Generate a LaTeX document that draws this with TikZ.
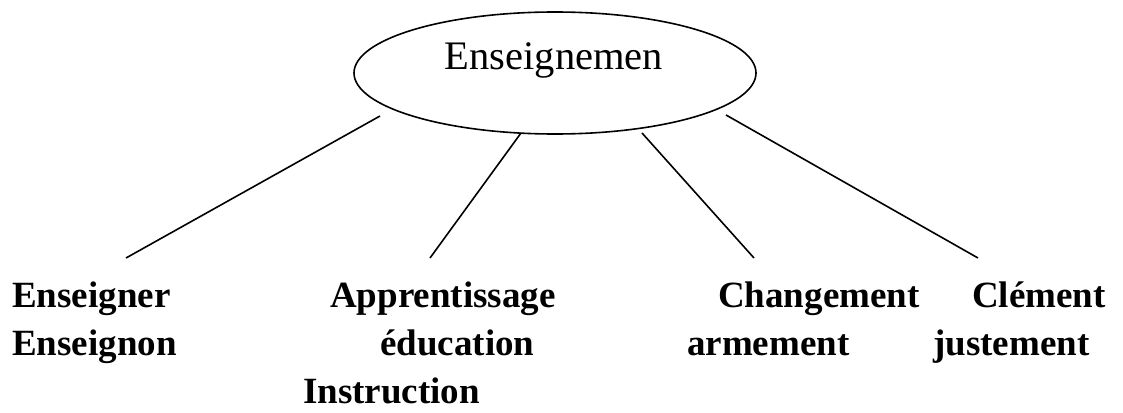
\documentclass[tikz,border=0pt]{standalone}
\usepackage{fontspec}
\setmainfont{Liberation Serif}
\usetikzlibrary{shapes.geometric}
\begin{document}
\begin{tikzpicture}[x=1pt,y=-1pt,
  word/.style={inner sep=0pt,anchor=base west,font=\fontsize{37}{44}\selectfont\bfseries},
  branch/.style={line width=1.6pt},
  hub/.style={ellipse,draw,line width=1.6pt,minimum width=402pt,minimum height=122pt,inner sep=0pt}]
\useasboundingbox (0,0) rectangle (1123,412);

% central ellipse and its title
\node[hub] (hub) at (555,73) {};
\node[inner sep=0pt,anchor=base,font=\fontsize{40.5}{48}\selectfont] (title) at (554,70) {Enseignemen};

% word groups
\node[word] (w1a) at (12,307) {Enseigner};
\node[word] (w1b) at (12,355) {Enseignon};
\node[word] (w2a) at (330,307) {Apprentissage};
\node[word] (w2b) at (380,355) {éducation};
\node[word] (w2c) at (303,403) {Instruction};
\node[word] (w3a) at (718,307) {Changement};
\node[word] (w3b) at (687,355) {armement};
\node[word] (w4a) at (972,307) {Clément};
\node[word] (w4b) at (933,355) {justement};

% branch end points
\coordinate (s1) at (380,116);
\coordinate (e1) at (126,258);
\coordinate (s2) at (521,133);
\coordinate (e2) at (430,258);
\coordinate (s3) at (642,133);
\coordinate (e3) at (754,258);
\coordinate (s4) at (726,115);
\coordinate (e4) at (978,258);

\draw[branch] (s1) -- (e1);
\draw[branch] (s2) -- (e2);
\draw[branch] (s3) -- (e3);
\draw[branch] (s4) -- (e4);
\end{tikzpicture}
\end{document}
